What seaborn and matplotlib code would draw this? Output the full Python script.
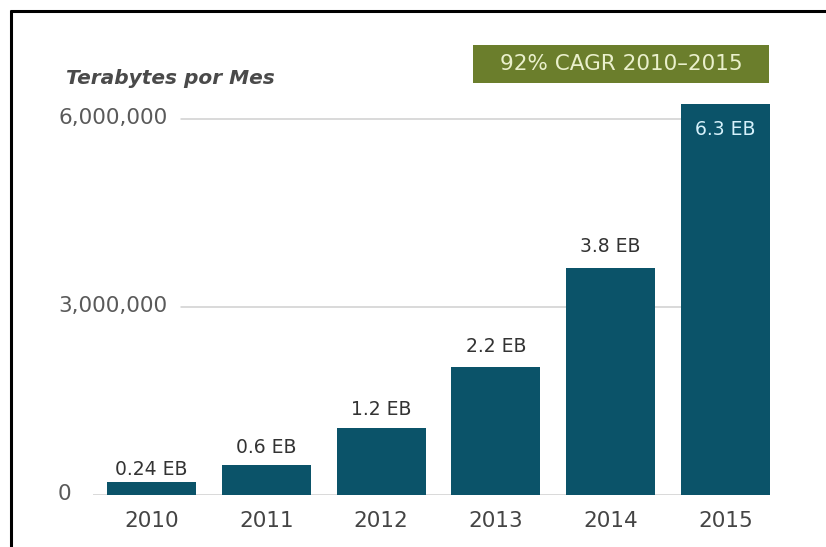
import matplotlib
matplotlib.use("Agg")
import matplotlib.pyplot as plt
import matplotlib.transforms as mtransforms
from matplotlib.patches import Rectangle
from matplotlib.lines import Line2D
import seaborn as sns
import pandas as pd

# ---- data ----
years = ["2010", "2011", "2012", "2013", "2014", "2015"]
terabytes = [200000, 470000, 1060000, 2040000, 3610000, 6230000]   # bar heights
eb_labels = [0.24, 0.6, 1.2, 2.2, 3.8, 6.3]                        # value labels (EB)
y_ticks = [0, 3000000, 6000000]
y_tick_labels = ["0", "3,000,000", "6,000,000"]
y_title = "Terabytes por Mes"
cagr_text = "92% CAGR 2010–2015"

bar_color = "#0b5369"
green = "#6b7e2c"
text_gray = "#4a4a4a"
grid_gray = "#cfcfcf"

sns.set_theme(style="white")
plt.rcParams["font.family"] = ["DejaVu Sans"]

W, H = 826, 547
fig = plt.figure(figsize=(W / 100, H / 100), dpi=100)
fig.patch.set_facecolor("white")

ax_left, ax_right = 93, 770
ax_bottom, ax_top = 494.5, 80
ax = fig.add_axes([ax_left / W, (H - ax_bottom) / H, (ax_right - ax_left) / W, (ax_bottom - ax_top) / H])

df = pd.DataFrame({"year": years, "tb": terabytes})
sns.barplot(data=df, x="year", y="tb", color=bar_color, saturation=1, width=0.775, ax=ax,
            zorder=3, linewidth=0)

px_per_mtb = 188 / 3.0
ax.set_xlim(-0.51, 5.3875)
ax.set_ylim(0, (ax_bottom - ax_top) / px_per_mtb * 1e6)

for s in ax.spines.values():
    s.set_visible(False)
ax.set_xlabel("")
ax.set_ylabel("")
ax.set_yticks([])
ax.tick_params(axis="x", length=0, pad=12, labelsize=15.5, labelcolor="#444444")

# y tick labels drawn inside the figure, left aligned
trans = mtransforms.blended_transform_factory(fig.transFigure, ax.transData)
tick_texts = []
for v, lab in zip(y_ticks, y_tick_labels):
    t = ax.text(58 / W, v, lab, transform=trans, ha="left", va="center",
                fontsize=15.5, color="#5a5a5a", clip_on=False)
    tick_texts.append((v, t))

fig.canvas.draw()
renderer = fig.canvas.get_renderer()
axbb = ax.get_window_extent(renderer)
for v, t in tick_texts:
    bb = t.get_window_extent(renderer)
    start = (bb.x1 + 14 - axbb.x0) / axbb.width
    ax.axhline(v, xmin=start, xmax=1, color=grid_gray, lw=1.1, zorder=1)

# value labels
for i, eb in enumerate(eb_labels):
    lab = f"{eb:g} EB"
    if i < len(eb_labels) - 1:
        ax.annotate(lab, (i, eb * 1e6), xytext=(0, 3), textcoords="offset points",
                    ha="center", va="baseline", fontsize=13.5, color="#333333", zorder=5)
    else:
        ax.annotate(lab, (i, terabytes[i]), xytext=(0, -22.5), textcoords="offset points",
                    ha="center", va="baseline", fontsize=13.5, color="#d6f1fb", zorder=5)

# axis title
fig.text(66 / W, 1 - 84 / H, y_title, ha="left", va="baseline", fontsize=14.5,
         fontstyle="italic", fontweight="bold", color=text_gray)

# CAGR box
bx0, bx1, by0, by1 = 473, 769, 45, 83
fig.patches.append(Rectangle((bx0 / W, 1 - by1 / H), (bx1 - bx0) / W, (by1 - by0) / H,
                             transform=fig.transFigure, facecolor=green, edgecolor="none"))
fig.text((bx0 + bx1) / 2 / W, 1 - (by0 + by1) / 2 / H, cagr_text, ha="center", va="center",
         fontsize=15.5, color="#eaf0cc")

# black frame (top and left)
fig.add_artist(Line2D([10 / W, 1], [1 - 11 / H, 1 - 11 / H], transform=fig.transFigure,
                      color="black", lw=2.2, solid_capstyle="butt"))
fig.add_artist(Line2D([10.5 / W, 10.5 / W], [0, 1 - 10 / H], transform=fig.transFigure,
                      color="black", lw=2.2, solid_capstyle="butt"))

fig.savefig("out.png", dpi=100)
